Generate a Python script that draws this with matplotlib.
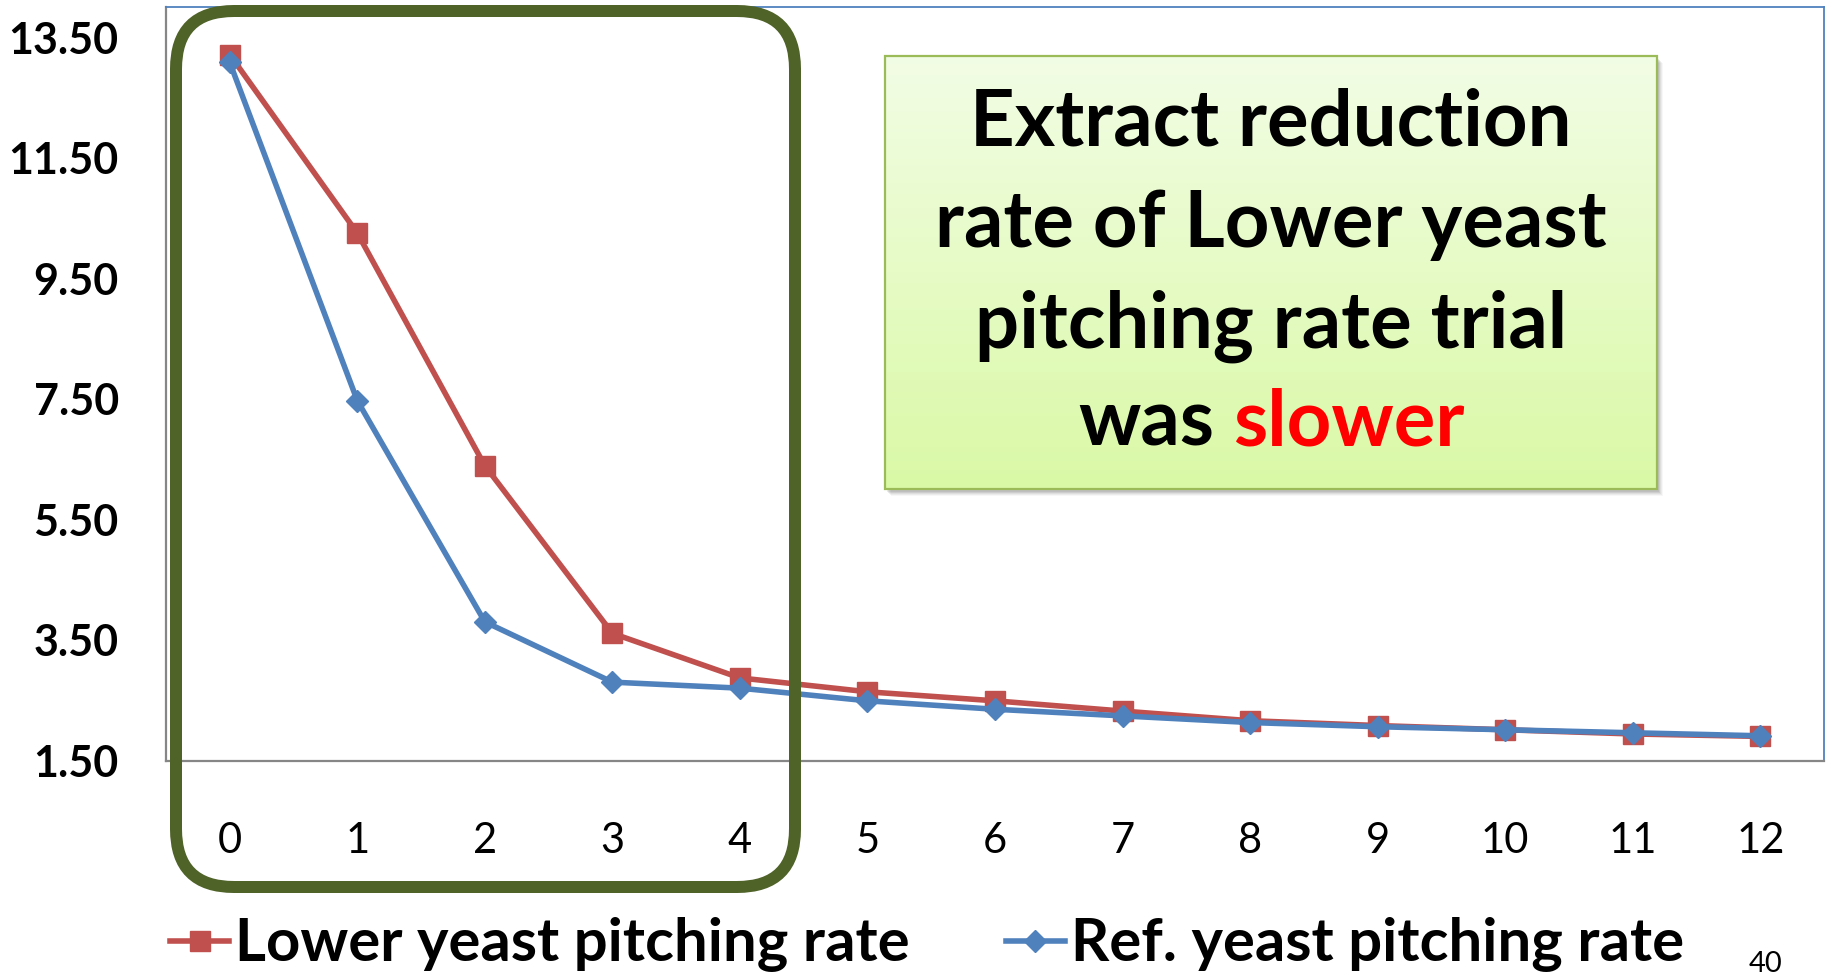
import matplotlib.pyplot as plt
import numpy as np
from matplotlib.colors import LinearSegmentedColormap
from matplotlib.lines import Line2D
from matplotlib.patches import FancyBboxPatch, Rectangle

plt.rcParams["font.family"] = ["Lato", "DejaVu Sans"]

# dados da fermentação (extrato por dia)
dias = list(range(13))
extrato_baixo = [13.21, 10.25, 6.39, 3.61, 2.87, 2.64, 2.49, 2.32, 2.16, 2.08, 2.01, 1.94, 1.90]
extrato_ref = [13.08, 7.47, 3.80, 2.80, 2.70, 2.49, 2.35, 2.24, 2.13, 2.06, 2.01, 1.96, 1.91]
ticks_y = [1.5, 3.5, 5.5, 7.5, 9.5, 11.5, 13.5]
rotulos = ["Lower yeast pitching rate", "Ref. yeast pitching rate"]
linhas_caixa = ["Extract reduction", "rate of Lower yeast", "pitching rate trial"]
destaque = ("was", "slower")
pagina = "40"

W, H = 1832, 975
VERMELHO = "#C0504D"
AZUL = "#4F81BD"
LW = 4.0

fig = plt.figure(figsize=(W / 100, H / 100), dpi=100)
ax = fig.add_axes([166 / W, 1 - 760.5 / H, (1824 - 166) / W, (760.5 - 7) / H])

ax.plot(dias, extrato_baixo, color=VERMELHO, lw=LW, marker="s", ms=14.5,
        mec=VERMELHO, zorder=3)
ax.plot(dias, extrato_ref, color=AZUL, lw=LW, marker="D", ms=11,
        mec=AZUL, zorder=4)

ax.set_xlim(-0.5, 12.5)
ax.set_ylim(1.5, 14.0)
ax.set_xticks(dias)
ax.set_yticks(ticks_y)
ax.set_yticklabels([f"{v:.2f}" for v in ticks_y], fontweight="bold", fontsize=31)
ax.tick_params(axis="x", length=0, pad=44, labelsize=30)
ax.tick_params(axis="y", length=0, pad=34)
for lado in ("top", "right"):
    ax.spines[lado].set_color(AZUL)
    ax.spines[lado].set_linewidth(1.3)
for lado in ("left", "bottom"):
    ax.spines[lado].set_color("#868686")
    ax.spines[lado].set_linewidth(1.6)

# camada em pixels para a moldura, a caixa de texto e a legenda
ov = fig.add_axes([0, 0, 1, 1], zorder=10)
ov.axis("off")

moldura = FancyBboxPatch((176, 11), 795 - 176, 887 - 11,
                         boxstyle="round,pad=0,rounding_size=58",
                         fill=False, ec="#4F6228", lw=12 * 0.72, zorder=2)
ov.add_patch(moldura)

# sombra suave da caixa
for i, a in enumerate([0.10, 0.10, 0.08, 0.06, 0.04]):
    ov.add_patch(Rectangle((885 + 2 + i, 56 + 3 + i), 1657 - 885, 489 - 56,
                           fc="#404040", ec="none", alpha=a, zorder=3))

gradiente = LinearSegmentedColormap.from_list("verde", ["#F2FDE5", "#DAF9A6"])
ov.imshow(np.linspace(0, 1, 256).reshape(-1, 1), cmap=gradiente, aspect="auto",
          extent=[885, 1657, 489, 56], zorder=4)
ov.add_patch(Rectangle((885, 56), 1657 - 885, 489 - 56, fill=False,
                       ec="#9BBB59", lw=1.6, zorder=5))
ov.set_xlim(0, W)
ov.set_ylim(H, 0)

cx = (885 + 1657) / 2
estilo = dict(fontsize=56, fontweight="bold", va="baseline", zorder=6)
for texto, yb in zip(linhas_caixa, [145, 247, 348]):
    ov.text(cx, yb, texto, ha="center", color="black", **estilo)

fig.canvas.draw()
r = fig.canvas.get_renderer()
tmp = ov.text(0, 0, " ".join(destaque), **estilo)
w_tudo = tmp.get_window_extent(r).width
tmp.remove()
tmp = ov.text(0, 0, destaque[1], **estilo)
w_fim = tmp.get_window_extent(r).width
tmp.remove()
x0 = cx - w_tudo / 2
ov.text(x0, 445, destaque[0], ha="left", color="black", **estilo)
ov.text(x0 + w_tudo - w_fim, 445, destaque[1], ha="left", color="#FF0000", **estilo)

ov.text(1766, 972, pagina, ha="center", va="baseline", fontsize=21)

alcas = [
    Line2D([], [], color=VERMELHO, lw=LW, marker="s", ms=14.5, mec=VERMELHO),
    Line2D([], [], color=AZUL, lw=LW, marker="D", ms=11, mec=AZUL),
]
fig.legend(alcas, rotulos, loc="center", bbox_to_anchor=(927 / W, 1 - 945 / H),
           ncol=2, frameon=False, prop=dict(weight="bold", size=43),
           handlelength=1.0, handletextpad=0.1, columnspacing=1.6,
           borderpad=0, numpoints=1)

fig.savefig("out.png", dpi=100)
